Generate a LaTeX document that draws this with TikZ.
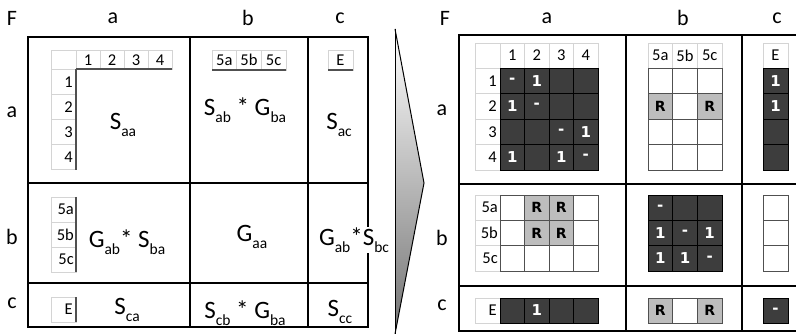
\documentclass[tikz,border=0pt]{standalone}
\usepackage{fontspec}
\setmainfont{Carlito}
\newfontfamily\vbf{DejaVu Sans}
\definecolor{dkg}{HTML}{3D3D3D}
\definecolor{rgy}{HTML}{BDBDBD}
\definecolor{lgy}{HTML}{D4D4D4}
\definecolor{mgy}{HTML}{505050}
\newcommand\sbs[1]{\raisebox{-0.28em}{\fontsize{15.5}{15.5}\selectfont #1}}
\newcommand\cel[6][]{\node[cellbase,#1,minimum width=#4pt,minimum height=#5pt] at ({#2},{#3}) {#6};}
\tikzset{
  frame/.style={line width=2.6pt},
  lbl/.style={font=\fontsize{22}{22}\selectfont},
  big/.style={font=\fontsize{25}{25}\selectfont, fill=white, inner sep=1pt},
  hd/.style={font=\fontsize{16.5}{16.5}\selectfont, inner sep=0pt},
  lg/.style={draw=lgy, line width=0.6pt},
  thk/.style={draw=mgy, line width=1.3pt},
  cellbase/.style={anchor=north west, inner sep=0pt, outer sep=0pt},
  dkc/.style={draw=black, fill=dkg, text=white, line width=0.8pt, font=\vbf\bfseries\fontsize{15}{15}\selectfont},
  whc/.style={draw=mgy, fill=white, line width=0.8pt},
  rc/.style={draw=mgy, fill=rgy, line width=0.8pt, font=\vbf\bfseries\fontsize{14}{14}\selectfont},
  lc/.style={draw=lgy, fill=white, line width=0.6pt, font=\fontsize{16.5}{16.5}\selectfont},
}
\begin{document}
\begin{tikzpicture}[x=1pt,y=-1pt]
\useasboundingbox[fill=white] (0,0) rectangle (796,334);

% ---------------- left panel ----------------
\node[lbl] (lF) at (12,18) {F};
\node[lbl] (lca) at (113,18) {a};
\node[lbl] (lcb) at (248,18) {b};
\node[lbl] (lcc) at (340,18) {c};
\node[lbl] (lra) at (12,112) {a};
\node[lbl] (lrb) at (12,237) {b};
\node[lbl] (lrc) at (12,303) {c};

\draw[frame] (28,37) rectangle (368,327);
\draw[frame] (190,37) -- (190,327);
\draw[frame] (308,37) -- (308,327);
\draw[frame] (28,183) -- (368,183);
\draw[frame] (28,283) -- (368,283);

% Saa header grid
\draw[lg] (51,50) rectangle (76,69);
\foreach \t [count=\i from 0] in {1,2,3,4}{
  \draw[lg] ({76+24*\i},50) rectangle ({100+24*\i},69);
  \node[hd] at ({88+24*\i},60) {\t};
  \draw[lg] (51,{69+25*\i}) rectangle (76,{94+25*\i});
  \node[hd,anchor=east] at (73,{82+25*\i}) {\t};
}
\draw[thk] (76,69) -- (172,69);
\draw[thk] (76,69) -- (76,170);
\node[big] (saa) at (123,125) {S\sbs{aa}};

% Sab header
\foreach \t [count=\i from 0] in {5a,5b,5c}{
  \draw[lg] ({212+24.67*\i},50) rectangle ({236.67+24.67*\i},70);
  \node[hd] at ({224.3+24.67*\i},60) {\t};
}
\draw[thk] (212,70) -- (286,70);
\node[big] (sab) at (245,110) {S\sbs{ab} * G\sbs{ba}};

% Sac header
\draw[lg] (328,50) rectangle (353,70);
\node[hd] at (340.5,60) {E};
\draw[thk] (328,70) -- (353,70);
\node[big] (sac) at (339,125) {S\sbs{ac}};

% row b
\foreach \t [count=\i from 0] in {5a,5b,5c}{
  \draw[lg] (51,{197+25*\i}) rectangle (76,{222+25*\i});
  \node[hd,anchor=east] at (74,{209.5+25*\i}) {\t};
}
\draw[thk] (76,197) -- (76,272);
\node[big] (gs) at (127,242) {G\sbs{ab}* S\sbs{ba}};
\node[big] (gaa) at (252,237) {G\sbs{aa}};
\node[big] (gsbc) at (354,240) {G\sbs{ab}*S\sbs{bc}};

% row c
\draw[lg] (51,297) rectangle (76,322);
\node[hd,anchor=east] at (73,309.5) {E};
\draw[thk] (76,297) -- (76,322);
\node[big] (sca) at (127,310) {S\sbs{ca}};
\node[big] (scb) at (245,313) {S\sbs{cb} * G\sbs{ba}};
\node[big] (scc) at (340,312) {S\sbs{cc}};

% ---------------- arrow ----------------
\shade[top color=white, bottom color=black!55] (395,29) -- (424,183) -- (395,334) -- cycle;
\draw[line width=1pt, line join=miter] (395,29) -- (424,183) -- (395,334);
\draw[line width=1pt] (395,29) -- (395,334);

% ---------------- right panel ----------------
\node[lbl] (rF) at (445,18) {F};
\node[lbl] (rca) at (547,18) {a};
\node[lbl] (rcb) at (683,18) {b};
\node[lbl] (rcc) at (777,18) {c};
\node[lbl] (rra) at (442,110) {a};
\node[lbl] (rrb) at (442,238) {b};
\node[lbl] (rrc) at (442,305) {c};

\draw[frame] (800,35) -- (459,35) -- (459,331) -- (800,331);
\draw[frame] (626,35) -- (626,331);
\draw[frame] (742,35) -- (742,331);
\draw[frame] (459,184) -- (800,184);
\draw[frame] (459,286) -- (800,286);

% Saa right
\cel[lc]{475}{43}{25}{25}{}
\foreach \t [count=\i from 0] in {1,2,3,4}{
  \cel[lc]{500+24.5*\i}{43}{24.5}{25}{\t}
  \draw[lg] (475,{68+25.5*\i}) rectangle (500,{93.5+25.5*\i});
  \node[hd,anchor=east] at (497,{81+25.5*\i}) {\t};
}
\foreach \c/\r/\t in {0/0/-,1/0/1,2/0/{},3/0/{},
                      0/1/1,1/1/-,2/1/{},3/1/{},
                      0/2/{},1/2/{},2/2/-,3/2/1,
                      0/3/1,1/3/{},2/3/1,3/3/-}{
  \cel[dkc]{500+24.5*\c}{68+25.5*\r}{24.5}{25.5}{\t}
}

% Sab right
\foreach \t [count=\i from 0] in {5a,5b,5c}{
  \cel[lc]{648+24.67*\i}{43}{24.67}{25}{\t}
}
\foreach \c/\r/\s/\t in {0/0/whc/{},1/0/whc/{},2/0/whc/{},
                         0/1/rc/R,1/1/whc/{},2/1/rc/R,
                         0/2/whc/{},1/2/whc/{},2/2/whc/{},
                         0/3/whc/{},1/3/whc/{},2/3/whc/{}}{
  \cel[\s]{648+24.67*\c}{68+25.5*\r}{24.67}{25.5}{\t}
}

% Sac right
\cel[lc]{763}{43}{25}{25}{E}
\foreach \r/\t in {0/1,1/1,2/{},3/{}}{
  \cel[dkc]{763}{68+25.5*\r}{25}{25.5}{\t}
}

% row b right
\foreach \t [count=\i from 0] in {5a,5b,5c}{
  \draw[lg] (475,{195+25.33*\i}) rectangle (500,{220.33+25.33*\i});
  \node[hd,anchor=east] at (498,{207.7+25.33*\i}) {\t};
}
\foreach \c/\r/\s/\t in {0/0/whc/{},1/0/rc/R,2/0/rc/R,3/0/whc/{},
                         0/1/whc/{},1/1/rc/R,2/1/rc/R,3/1/whc/{},
                         0/2/whc/{},1/2/whc/{},2/2/whc/{},3/2/whc/{}}{
  \cel[\s]{500+24.5*\c}{195+25.33*\r}{24.5}{25.33}{\t}
}
\foreach \c/\r/\t in {0/0/-,1/0/{},2/0/{},
                      0/1/1,1/1/-,2/1/1,
                      0/2/1,1/2/1,2/2/-}{
  \cel[dkc]{648+24.67*\c}{195+25.33*\r}{24.67}{25.33}{\t}
}
\foreach \r in {0,1,2}{
  \cel[whc]{763}{195+25.33*\r}{25}{25.33}{}
}

% row c right
\draw[lg] (475,298) rectangle (500,323);
\node[hd,anchor=east] at (497,310.5) {E};
\foreach \c/\t in {0/{},1/1,2/{},3/{}}{
  \cel[dkc]{500+24.5*\c}{298}{24.5}{25}{\t}
}
\foreach \c/\s/\t in {0/rc/R,1/whc/{},2/rc/R}{
  \cel[\s]{648+24.67*\c}{298}{24.67}{25}{\t}
}
\cel[dkc]{763}{298}{25}{25}{-}

\end{tikzpicture}
\end{document}
